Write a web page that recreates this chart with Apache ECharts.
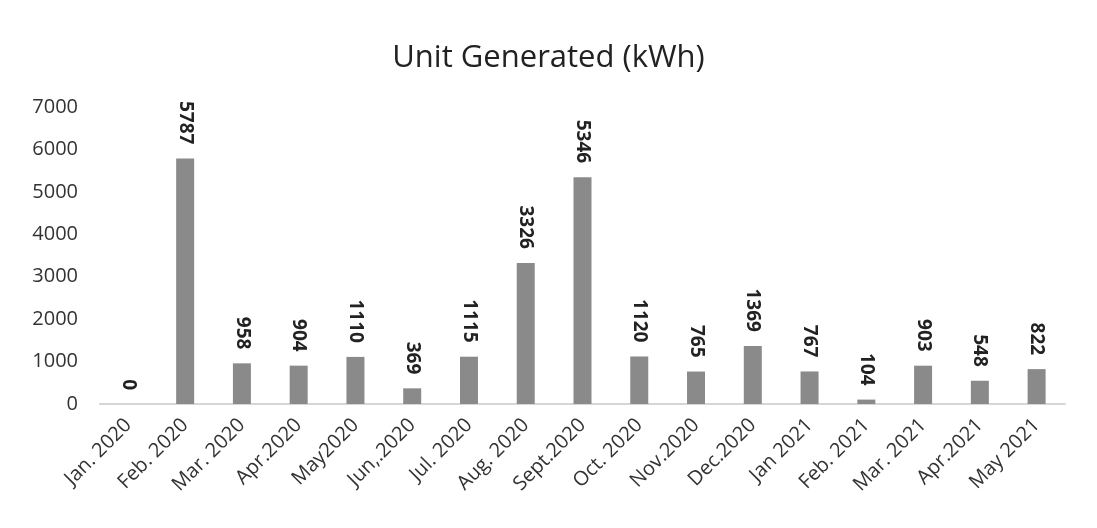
<!DOCTYPE html>
<html>
<head>
<meta charset="utf-8">
<script src="https://cdn.jsdelivr.net/npm/echarts@6/dist/echarts.min.js"></script>
<style>
  html, body { margin: 0; padding: 0; background: #fff; }
</style>
</head>
<body>
<div id="chart" style="width:1097px;height:528px;"></div>
<script>
const months = ["Jan. 2020", "Feb. 2020", "Mar. 2020", "Apr.2020", "May2020", "Jun,.2020",
  "Jul. 2020", "Aug. 2020", "Sept.2020", "Oct. 2020", "Nov.2020", "Dec.2020",
  "Jan 2021", "Feb. 2021", "Mar. 2021", "Apr.2021", "May 2021"];
const units = [0, 5787, 958, 904, 1110, 369, 1115, 3326, 5346, 1120, 765, 1369, 767, 104, 903, 548, 822];

const chart = echarts.init(document.getElementById("chart"));
chart.setOption({
  animation: false,
  title: {
    text: "Unit Generated (kWh)",
    left: "center",
    top: 38,
    textStyle: { fontFamily: "Open Sans", fontSize: 31, fontWeight: "normal", color: "#222" },
  },
  grid: { left: 100, right: 32, top: 107, bottom: 124 },
  xAxis: {
    type: "category",
    data: months,
    axisLine: { lineStyle: { color: "#d6d6d6", width: 2 } },
    axisTick: { show: false },
    axisLabel: {
      rotate: 45,
      interval: 0,
      margin: 18,
      fontFamily: "Open Sans",
      fontSize: 20,
      color: "#333",
    },
  },
  yAxis: {
    type: "value",
    min: 0,
    max: 7000,
    interval: 1000,
    splitLine: { show: false },
    axisLine: { show: false },
    axisLabel: {
      fontFamily: "Open Sans",
      fontSize: 20,
      color: "#333",
      margin: 22,
      formatter: (v) => String(v),
    },
  },
  series: [
    {
      type: "bar",
      data: units,
      barWidth: 18,
      itemStyle: { color: "#8a8a8a" },
      label: {
        show: true,
        position: "top",
        rotate: -90,
        align: "right",
        verticalAlign: "middle",
        distance: 14,
        fontFamily: "Open Sans",
        fontWeight: "bold",
        fontSize: 19,
        color: "#222",
      },
    },
  ],
});
</script>
</body>
</html>
